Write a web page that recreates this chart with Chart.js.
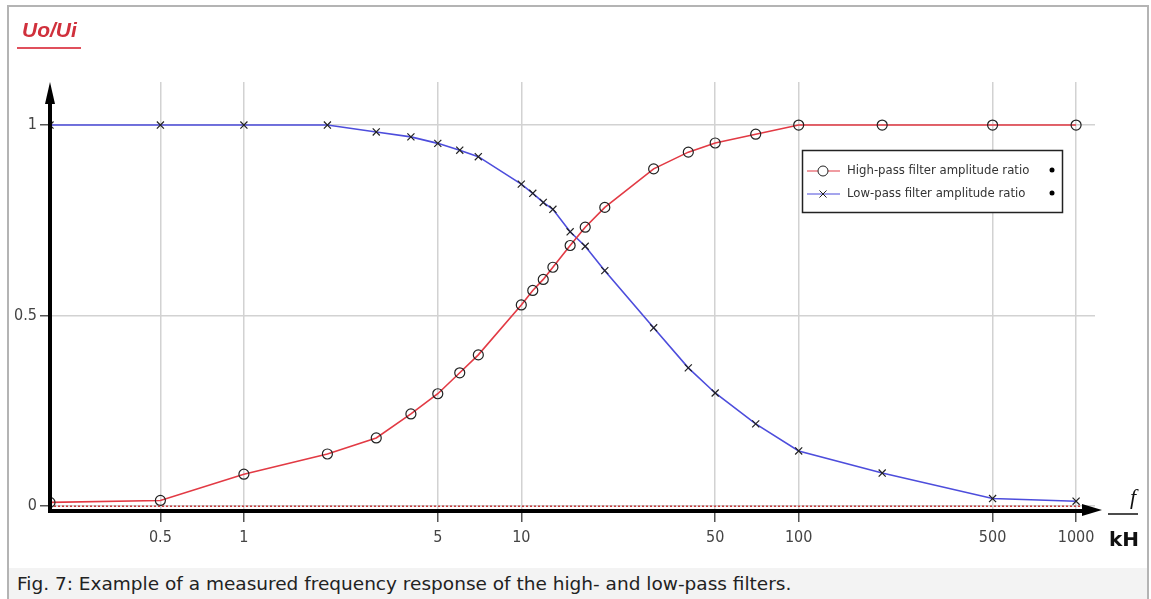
<!DOCTYPE html>
<html>
<head>
<meta charset="utf-8">
<script src="https://cdn.jsdelivr.net/npm/chart.js@4.4.1/dist/chart.umd.min.js"></script>
<style>
  html, body { margin: 0; padding: 0; background: #fff; }
  #wrap { position: relative; width: 1151px; height: 599px; overflow: hidden; }
  #frame {
    position: absolute; left: 7px; top: 5px; width: 1142px; height: 594px;
    border: 2px solid #b4b4b4; border-bottom: none; box-sizing: border-box;
  }
  #caption {
    position: absolute; left: 9px; top: 568px; width: 1138px; height: 31px;
    background: #f3f3f3; color: #222;
    font: 18.5px "DejaVu Sans", sans-serif; line-height: 31px; padding-left: 8px;
    box-sizing: border-box; white-space: nowrap;
  }
  #chart { position: absolute; left: 0; top: 0; }
</style>
</head>
<body>
<div id="wrap">
  <div id="frame"></div>
  <canvas id="chart" width="1151" height="568"></canvas>
  <div id="caption">Fig. 7: Example of a measured frequency response of the high- and low-pass filters.</div>
</div>
<script>
// frequencies in kHz
const freqs = [0.2, 0.5, 1, 2, 3, 4, 5, 6, 7, 10, 11, 12, 13, 15, 17, 20, 30, 40, 50, 70, 100, 200, 500, 1000];
const highPass = [0.01, 0.015, 0.084, 0.137, 0.179, 0.242, 0.295, 0.35, 0.397, 0.528, 0.566, 0.595, 0.627, 0.684, 0.732, 0.784, 0.885, 0.929, 0.953, 0.976, 1, 1, 1, 1];
const lowPass = [1, 1, 1, 1, 0.982, 0.969, 0.952, 0.934, 0.917, 0.845, 0.821, 0.797, 0.779, 0.72, 0.682, 0.618, 0.468, 0.363, 0.297, 0.216, 0.145, 0.087, 0.02, 0.013];
const xTicks = [0.5, 1, 5, 10, 50, 100, 500, 1000];
const yTicks = [0, 0.5, 1];
const seriesNames = ['High-pass filter amplitude ratio', 'Low-pass filter amplitude ratio'];

const RED = '#e23a44';
const BLUE = '#4d4ddc';
const narrow = '"Liberation Sans Narrow", "DejaVu Sans Condensed", sans-serif';

function toPoints(ys) {
  return freqs.map((f, i) => ({ x: f, y: ys[i] }));
}

// axes with arrows, zero line, title, units and legend box
const decorations = {
  id: 'decorations',
  afterDatasetsDraw(chart) {
    const ctx = chart.ctx;
    const area = chart.chartArea;
    const y0 = chart.scales.y.getPixelForValue(0);
    ctx.save();

    // red dotted zero line
    ctx.strokeStyle = '#c83c3c';
    ctx.lineWidth = 1.5;
    ctx.setLineDash([2, 2]);
    ctx.beginPath();
    ctx.moveTo(area.left, y0);
    ctx.lineTo(area.right - 10, y0);
    ctx.stroke();
    ctx.setLineDash([]);

    // thick black axes
    ctx.strokeStyle = '#000';
    ctx.fillStyle = '#000';
    ctx.lineWidth = 4;
    ctx.beginPath();
    ctx.moveTo(area.left, area.bottom + 1);
    ctx.lineTo(area.left, area.top + 18);
    ctx.moveTo(area.left - 2, area.bottom + 1);
    ctx.lineTo(area.right - 10, area.bottom + 1);
    ctx.stroke();
    ctx.beginPath();
    ctx.moveTo(area.left, area.top);
    ctx.lineTo(area.left - 5, area.top + 22);
    ctx.lineTo(area.left + 5, area.top + 22);
    ctx.closePath();
    ctx.fill();
    ctx.beginPath();
    ctx.moveTo(area.right + 7, area.bottom);
    ctx.lineTo(area.right - 13, area.bottom - 6);
    ctx.lineTo(area.right - 13, area.bottom + 6);
    ctx.closePath();
    ctx.fill();

    // y title
    ctx.fillStyle = '#d0303c';
    ctx.font = 'italic bold 21px "Liberation Sans", sans-serif';
    ctx.textAlign = 'left';
    ctx.textBaseline = 'alphabetic';
    ctx.fillText('Uo/Ui', 22, 37);
    ctx.strokeStyle = '#e0505c';
    ctx.lineWidth = 2;
    ctx.beginPath();
    ctx.moveTo(17, 48);
    ctx.lineTo(81, 48);
    ctx.stroke();

    // x unit  f / kH
    ctx.fillStyle = '#111';
    ctx.textAlign = 'center';
    ctx.textBaseline = 'middle';
    ctx.font = 'italic 22px "Liberation Serif", serif';
    ctx.fillText('f', 1133, 498);
    ctx.strokeStyle = '#111';
    ctx.lineWidth = 1.5;
    ctx.beginPath();
    ctx.moveTo(1108, 514);
    ctx.lineTo(1138, 514);
    ctx.stroke();
    ctx.font = 'bold 20px "DejaVu Sans", sans-serif';
    ctx.fillText('kH', 1124, 541);

    // legend box
    const lx = 802, ly = 150;
    ctx.fillStyle = '#fff';
    ctx.fillRect(lx, ly, 260, 62);
    ctx.strokeStyle = '#222';
    ctx.lineWidth = 1.5;
    ctx.strokeRect(lx + 0.5, ly + 0.5, 260, 62);
    const rows = [
      { name: seriesNames[0], color: RED, style: 'circle', y: ly + 21 },
      { name: seriesNames[1], color: BLUE, style: 'crossRot', y: ly + 44 }
    ];
    rows.forEach(r => {
      ctx.strokeStyle = r.color;
      ctx.lineWidth = 1.2;
      ctx.beginPath();
      ctx.moveTo(lx + 5, r.y);
      ctx.lineTo(lx + 38, r.y);
      ctx.stroke();
      ctx.strokeStyle = '#222';
      ctx.lineWidth = 1;
      Chart.helpers.drawPoint(ctx, { pointStyle: r.style, radius: 5, borderWidth: 1 }, lx + 21, r.y);
      ctx.fillStyle = '#333';
      ctx.font = '13px ' + narrow;
      ctx.textAlign = 'left';
      ctx.textBaseline = 'middle';
      ctx.fillText(r.name, lx + 45, r.y, 186);
      ctx.fillStyle = '#000';
      ctx.beginPath();
      ctx.arc(lx + 250, r.y - 1, 2.5, 0, Math.PI * 2);
      ctx.fill();
    });

    ctx.restore();
  }
};

new Chart(document.getElementById('chart').getContext('2d'), {
  type: 'scatter',
  data: {
    datasets: [
      {
        label: seriesNames[0],
        data: toPoints(highPass),
        showLine: true,
        borderColor: RED,
        borderWidth: 1.6,
        pointStyle: 'circle',
        pointRadius: 5,
        pointBorderWidth: 1.2,
        pointBorderColor: '#222',
        pointBackgroundColor: 'rgba(0,0,0,0)',
        tension: 0
      },
      {
        label: seriesNames[1],
        data: toPoints(lowPass),
        showLine: true,
        borderColor: BLUE,
        borderWidth: 1.6,
        pointStyle: 'crossRot',
        pointRadius: 5,
        pointBorderWidth: 1.2,
        pointBorderColor: '#222',
        tension: 0
      }
    ]
  },
  options: {
    responsive: false,
    animation: false,
    layout: { padding: { top: 82, right: 56, left: 0, bottom: 0 } },
    plugins: {
      legend: { display: false },
      tooltip: { enabled: false }
    },
    scales: {
      x: {
        type: 'logarithmic',
        min: 0.2,
        max: 1170,
        afterBuildTicks: s => { s.ticks = xTicks.map(v => ({ value: v })); },
        afterFit: s => { s.height = 58; },
        border: { display: false },
        grid: { color: '#d2d2d2', lineWidth: 1.5, tickColor: '#555', tickLength: 12 },
        ticks: {
          autoSkip: false,
          maxRotation: 0,
          padding: 6,
          color: '#444',
          font: { family: narrow, size: 16 },
          callback: v => String(v)
        }
      },
      y: {
        type: 'linear',
        min: -0.01,
        max: 1.113,
        afterBuildTicks: s => { s.ticks = yTicks.map(v => ({ value: v })); },
        afterFit: s => { s.width = 50; },
        border: { display: false },
        grid: { color: '#d2d2d2', lineWidth: 1.5, tickColor: '#555', tickLength: 10 },
        ticks: {
          padding: 3,
          color: '#444',
          font: { family: narrow, size: 16 },
          callback: v => String(v)
        }
      }
    }
  },
  plugins: [decorations]
});
</script>
</body>
</html>
